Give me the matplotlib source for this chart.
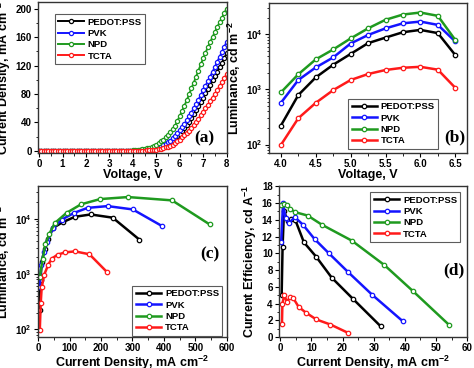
import matplotlib
matplotlib.use('Agg')
import matplotlib.pyplot as plt
import numpy as np
from matplotlib.ticker import MultipleLocator, LogLocator, NullFormatter, FixedLocator

plt.rcParams['font.family'] = ['Liberation Sans', 'DejaVu Sans']
plt.rcParams['font.weight'] = 'bold'
plt.rcParams['axes.labelweight'] = 'bold'
plt.rcParams['mathtext.fontset'] = 'custom'
plt.rcParams['mathtext.rm'] = 'Liberation Sans:bold'
plt.rcParams['mathtext.bf'] = 'Liberation Sans:bold'
plt.rcParams['mathtext.it'] = 'Liberation Sans:bold'

series = ['PEDOT:PSS', 'PVK', 'NPD', 'TCTA']
colores = ['#000000', '#1414ff', '#1f9a1f', '#ff1a1a']

# (a) J-V, 0.1 V steps
voltaje_jv = [round(0.1 * i, 1) for i in range(81)]
j_pedot = [0, 0, 0, 0, 0, 0, 0, 0, 0, 0,
           0, 0, 0, 0, 0, 0, 0, 0, 0, 0,
           0, 0, 0, 0, 0, 0, 0, 0, 0, 0,
           0, 0, 0, 0, 0.1, 0.1, 0.1, 0.1, 0.2, 0.2,
           0.2, 0.3, 0.4, 0.5, 0.7, 1.0, 1.3, 1.7, 2.2, 2.8,
           3.5, 4.4, 5.4, 6.7, 8.2, 10.0, 12.2, 14.8, 17.5, 20.6,
           24.0, 28.0, 32.0, 36.5, 41.0, 46.0, 51.5, 57.0, 63.0, 69.0,
           75.0, 81.0, 87.0, 93.0, 99.0, 105.0, 111.5, 118.0, 124.0, 130.5,
           137.0]
j_pvk = [0, 0, 0, 0, 0, 0, 0, 0, 0, 0,
         0, 0, 0, 0, 0, 0, 0, 0, 0, 0,
         0, 0, 0, 0, 0, 0, 0, 0, 0, 0,
         0, 0, 0, 0.1, 0.1, 0.1, 0.1, 0.2, 0.2, 0.3,
         0.3, 0.4, 0.6, 0.8, 1.1, 1.5, 2.0, 2.5, 3.1, 3.8,
         4.6, 5.6, 6.8, 8.3, 10.0, 12.0, 14.5, 17.5, 21.0, 25.0,
         29.0, 33.5, 38.0, 43.0, 48.5, 54.0, 60.0, 66.0, 72.0, 78.5,
         85.0, 91.5, 98.0, 104.5, 111.0, 118.0, 125.0, 132.0, 139.0, 146.0,
         153.0]
j_npd = [0, 0, 0, 0, 0, 0, 0, 0, 0, 0,
         0, 0, 0, 0, 0, 0, 0, 0, 0, 0,
         0, 0, 0, 0, 0, 0, 0, 0, 0, 0,
         0, 0, 0.1, 0.1, 0.2, 0.2, 0.3, 0.4, 0.5, 0.6,
         0.8, 1.0, 1.3, 1.7, 2.2, 2.8, 3.5, 4.4, 5.5, 7.0,
         9.0, 11.0, 13.5, 16.0, 19.0, 22.0, 26.0, 30.5, 35.5, 42.0,
         49.0, 56.0, 63.5, 71.0, 79.5, 88.0, 96.0, 104.5, 113.0, 121.5,
         130.0, 138.0, 145.5, 153.0, 160.0, 167.0, 174.0, 180.5, 187.0, 193.5,
         200.0]
j_tcta = [0, 0, 0, 0, 0, 0, 0, 0, 0, 0,
          0, 0, 0, 0, 0, 0, 0, 0, 0, 0,
          0, 0, 0, 0, 0, 0, 0, 0, 0, 0,
          0, 0, 0, 0, 0, 0, 0.1, 0.1, 0.1, 0.1,
          0.1, 0.2, 0.2, 0.3, 0.4, 0.5, 0.7, 1.0, 1.3, 1.6,
          2.0, 2.6, 3.2, 4.0, 5.0, 6.0, 7.5, 9.0, 11.0, 13.5,
          16.0, 19.0, 22.0, 25.0, 28.5, 32.0, 36.0, 40.5, 45.0, 50.0,
          55.0, 60.0, 65.0, 70.0, 75.0, 80.0, 85.5, 91.0, 96.5, 102.0,
          108.0]

# (b) L-V
voltaje_lv = [4.0, 4.25, 4.5, 4.75, 5.0, 5.25, 5.5, 5.75, 6.0, 6.25, 6.5]
l_pedot = [220, 790, 1650, 2800, 4400, 6900, 8700, 10900, 12000, 10500, 4200]
l_pvk = [570, 1480, 2500, 3800, 6800, 9700, 12800, 15800, 17000, 14800, 7400]
l_npd = [880, 1880, 3500, 5300, 8400, 12800, 18300, 22800, 24800, 21600, 7900]
l_tcta = [98, 300, 570, 970, 1480, 1900, 2250, 2470, 2570, 2280, 1070]

# (c) L-J
jc_pedot = [4.4, 7.3, 11, 20, 31, 48, 78, 117, 167, 237, 322]
jc_pvk = [5, 9.3, 18, 28, 47, 75, 114, 157, 221, 301, 394]
jc_npd = [5, 14, 23, 35, 53, 90, 136, 197, 286, 426, 546]
jc_tcta = [5, 8, 11, 19, 32, 43, 62, 86, 117, 163, 220]

# (d) eficiencia
jd_pedot = [0.45, 0.75, 1.2, 2.5, 3.5, 4.8, 7.6, 11.5, 16.5, 23.5, 32.2]
ef_pedot = [5.0, 10.8, 15.0, 13.8, 14.1, 14.0, 11.3, 9.6, 7.1, 4.5, 1.3]
jd_pvk = [0.3, 0.9, 1.7, 2.7, 4.7, 7.3, 11.0, 15.6, 21.8, 29.5, 39.3]
ef_pvk = [11.4, 16.0, 14.2, 13.6, 14.3, 13.4, 11.7, 10.0, 7.75, 5.05, 1.9]
jd_npd = [0.4, 1.3, 2.1, 3.2, 4.8, 8.8, 13.4, 23.0, 33.4, 42.7, 54.2]
ef_npd = [15.8, 15.9, 15.8, 15.3, 14.9, 14.5, 13.4, 11.5, 8.6, 5.45, 1.45]
jd_tcta = [0.55, 0.7, 1.3, 2.15, 3.2, 4.1, 5.9, 8.3, 11.6, 16.1, 21.8]
ef_tcta = [1.6, 4.0, 5.0, 4.2, 4.8, 4.7, 3.6, 2.9, 2.1, 1.5, 0.5]

tam_tick = 7
tam_label = 9
tam_leg = 6.8


def estilo(ax):
    for s in ax.spines.values():
        s.set_color('#333333')
        s.set_linewidth(1.0)
    ax.tick_params(which='major', direction='out', length=3, width=0.8,
                   labelsize=tam_tick, pad=1.5)
    ax.tick_params(which='minor', direction='out', length=1.8, width=0.6)
    for lab in ax.get_xticklabels() + ax.get_yticklabels():
        lab.set_fontweight('bold')


def leyenda(ax, **kw):
    leg = ax.legend(fontsize=tam_leg, frameon=True, fancybox=False,
                    edgecolor='#333333', handlelength=2.7, handletextpad=0.4,
                    labelspacing=0.25, borderpad=0.35, borderaxespad=0, **kw)
    leg.get_frame().set_linewidth(0.8)
    return leg


def log_ticks(ax):
    ax.set_yscale('log')
    ax.yaxis.set_major_locator(FixedLocator([1e2, 1e3, 1e4]))
    ax.set_yticklabels([r'10$^{2}$', r'10$^{3}$', r'10$^{4}$'])
    ax.yaxis.set_minor_locator(LogLocator(base=10, subs=np.arange(2, 10)))
    ax.yaxis.set_minor_formatter(NullFormatter())


fig = plt.figure(figsize=(4.74, 3.68), dpi=100)
ax_a = fig.add_axes([0.080, 0.584, 0.399, 0.410])
ax_b = fig.add_axes([0.5675, 0.584, 0.418, 0.408])
ax_c = fig.add_axes([0.080, 0.084, 0.399, 0.410])
ax_d = fig.add_axes([0.5886, 0.084, 0.397, 0.410])

kw_linea = dict(marker='o', markersize=3.2, markerfacecolor='white',
                markeredgewidth=0.9, linewidth=1.8)

# (a)
for nombre, col, j in zip(series, colores, [j_pedot, j_pvk, j_npd, j_tcta]):
    ax_a.plot(voltaje_jv, j, color=col, markeredgecolor=col, label=nombre,
              **dict(kw_linea, markersize=3.0, linewidth=1.4))
ax_a.set_xlim(-0.05, 8.02)
ax_a.set_ylim(-3, 209)
ax_a.xaxis.set_major_locator(MultipleLocator(1))
ax_a.xaxis.set_minor_locator(MultipleLocator(0.5))
ax_a.yaxis.set_major_locator(MultipleLocator(40))
ax_a.yaxis.set_minor_locator(MultipleLocator(20))
ax_a.set_xlabel('Voltage, V', fontsize=tam_label, labelpad=0)
ax_a.set_ylabel(r'Current Density, mA cm$^{-2}$', fontsize=tam_label, labelpad=2)
estilo(ax_a)
leyenda(ax_a, loc='upper left', bbox_to_anchor=(0.09, 0.92))
ax_a.text(0.88, 0.10, '(a)', transform=ax_a.transAxes, ha='center', va='center',
          fontsize=12.5, fontweight='bold', family='Liberation Serif')

# (b)
for nombre, col, l in zip(series, colores, [l_pedot, l_pvk, l_npd, l_tcta]):
    ax_b.plot(voltaje_lv, l, color=col, markeredgecolor=col, label=nombre, **kw_linea)
log_ticks(ax_b)
ax_b.set_xlim(3.83, 6.67)
ax_b.set_ylim(70, 37000)
ax_b.xaxis.set_major_locator(MultipleLocator(0.5))
ax_b.xaxis.set_minor_locator(MultipleLocator(0.25))
ax_b.xaxis.set_major_formatter(matplotlib.ticker.FormatStrFormatter('%.1f'))
ax_b.set_xlabel('Voltage, V', fontsize=tam_label, labelpad=0)
ax_b.set_ylabel(r'Luminance, cd m$^{-2}$', fontsize=tam_label, labelpad=2)
estilo(ax_b)
leyenda(ax_b, loc='lower left', bbox_to_anchor=(0.40, 0.03))
ax_b.text(0.94, 0.107, '(b)', transform=ax_b.transAxes, ha='center', va='center',
          fontsize=12.5, fontweight='bold', family='Liberation Serif')

# (c)
for nombre, col, jx, l in zip(series, colores, [jc_pedot, jc_pvk, jc_npd, jc_tcta],
                              [l_pedot, l_pvk, l_npd, l_tcta]):
    ax_c.plot(jx, l, color=col, markeredgecolor=col, label=nombre, **kw_linea)
log_ticks(ax_c)
ax_c.set_xlim(-1, 601)
ax_c.set_ylim(72, 39000)
ax_c.xaxis.set_major_locator(MultipleLocator(100))
ax_c.xaxis.set_minor_locator(MultipleLocator(50))
ax_c.set_xlabel(r'Current Density, mA cm$^{-2}$', fontsize=tam_label, labelpad=0)
ax_c.set_ylabel(r'Luminance, cd m$^{-2}$', fontsize=tam_label, labelpad=2)
estilo(ax_c)
leyenda(ax_c, loc='lower left', bbox_to_anchor=(0.50, 0.01))
ax_c.text(0.91, 0.55, '(c)', transform=ax_c.transAxes, ha='center', va='center',
          fontsize=12.5, fontweight='bold', family='Liberation Serif')

# (d)
for nombre, col, jx, ef in zip(series, colores, [jd_pedot, jd_pvk, jd_npd, jd_tcta],
                               [ef_pedot, ef_pvk, ef_npd, ef_tcta]):
    ax_d.plot(jx, ef, color=col, markeredgecolor=col, label=nombre, **kw_linea)
ax_d.set_xlim(-0.4, 60)
ax_d.set_ylim(0, 18)
ax_d.xaxis.set_major_locator(MultipleLocator(10))
ax_d.xaxis.set_minor_locator(MultipleLocator(5))
ax_d.yaxis.set_major_locator(MultipleLocator(2))
ax_d.yaxis.set_minor_locator(MultipleLocator(1))
ax_d.set_xlabel(r'Current Density, mA cm$^{-2}$', fontsize=tam_label, labelpad=0)
ax_d.set_ylabel(r'Current Efficiency, cd A$^{-1}$', fontsize=tam_label, labelpad=2)
estilo(ax_d)
leyenda(ax_d, loc='upper left', bbox_to_anchor=(0.486, 0.96))
ax_d.text(0.93, 0.44, '(d)', transform=ax_d.transAxes, ha='center', va='center',
          fontsize=12.5, fontweight='bold', family='Liberation Serif')

plt.savefig('out.png', dpi=100)
plt.close()
